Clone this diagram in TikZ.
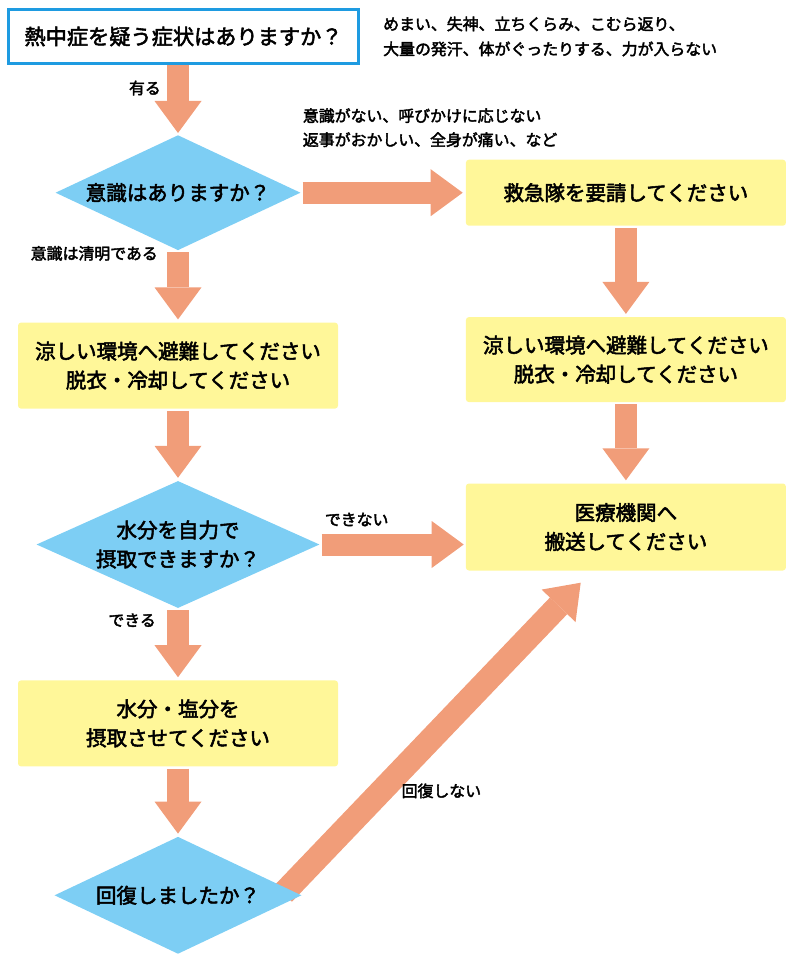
\documentclass[tikz,border=0pt]{standalone}
\usepackage{fontspec}
\setmainfont{Noto Sans CJK JP}[FakeBold=2.5]
\usetikzlibrary{positioning,arrows.meta,calc,shapes.geometric,backgrounds}

\definecolor{pfeil}{RGB}{241,157,121}
\definecolor{raute}{RGB}{125,206,244}
\definecolor{kasten}{RGB}{255,247,153}
\definecolor{rahmen}{RGB}{30,155,225}

\begin{document}
\begin{tikzpicture}[
  x=1pt, y=-1pt,
  box/.style={fill=kasten, rounded corners=3pt, minimum width=320pt, inner sep=0pt,
              align=center, font=\fontsize{20.5}{29}\selectfont},
  ask/.style={diamond, fill=raute, inner sep=0pt, align=center,
              font=\fontsize{20.5}{29}\selectfont},
  lbl/.style={inner sep=0pt, align=left, font=\fontsize{15.9}{24}\selectfont},
  fl/.style={pfeil, line width=22pt,
             -{Triangle[length=32pt, width=47pt, line width=0pt]}}
]
\useasboundingbox (0,0) rectangle (800,963);

\node[draw=rahmen, line width=3pt, fill=white, minimum width=350pt, minimum height=54pt,
      font=\fontsize{21.2}{29}\selectfont] (q0) at (183.5,36.5) {熱中症を疑う症状はありますか？};
\node[lbl, right=23pt of q0] (sym)
  {めまい、失神、立ちくらみ、こむら返り、\\[1pt]大量の発汗、体がぐったりする、力が入らない};

\node[ask, aspect=2.13, minimum width=245pt, minimum height=115pt,
      below=70pt of q0, xshift=-5.5pt] (d1) {意識はありますか？};
\node[box, minimum height=86pt, below=72pt of d1] (l1)
  {涼しい環境へ避難してください\\脱衣・冷却してください};
\node[ask, aspect=2.23, minimum width=283pt, minimum height=127pt,
      below=72pt of l1] (d2) {水分を自力で\\摂取できますか？};
\node[box, minimum height=86pt, below=72pt of d2] (l2)
  {水分・塩分を\\摂取させてください};
\node[ask, aspect=2.11, minimum width=247pt, minimum height=117pt,
      below=70pt of l2] (d3) {回復しましたか？};

\node[box, minimum height=66pt, right=165pt of d1] (r1) {救急隊を要請してください};
\node[box, minimum height=85pt, below=91pt of r1] (r2)
  {涼しい環境へ避難してください\\脱衣・冷却してください};
\node[box, minimum height=87pt, below=81pt of r2] (r3)
  {医療機関へ\\搬送してください};

\coordinate (ab) at ($(d3.north)!0.9!(d3.east)+(-6,4)$);
\coordinate (an) at ($(r3.south west)+(115,12)$);

\begin{scope}[on background layer]
\draw[fl, shorten >=2pt] (q0.south -| d1.north) -- (d1.north);
\foreach \a/\b in {d1/l1, l1/d2, d2/l2, l2/d3, r1/r2, r2/r3}
  \draw[fl, shorten <=2pt, shorten >=3pt] (\a.south) -- (\b.north);
\draw[fl, shorten <=2pt, shorten >=3pt] (d1.east) -- (r1.west);
\draw[fl, shorten <=2pt, shorten >=2pt] (d2.east) -- (d2.east -| r3.west);
\draw[fl, line width=24pt] (ab) -- (an);
\end{scope}

\node[lbl, anchor=east] (t1) at ($(q0.south -| d1.north)+(-17,23)$) {有る};
\node[lbl, anchor=east] (t2) at ($(d1.south)+(-20,3)$) {意識は清明である};
\node[lbl, anchor=west] (t3) at ($(d1.east)+(2,-65)$)
  {意識がない、呼びかけに応じない\\返事がおかしい、全身が痛い、など};
\node[lbl, anchor=west] (t4) at ($(d2.east)+(5,-25)$) {できない};
\node[lbl, anchor=east] (t5) at ($(d2.south)+(-22,12)$) {できる};
\node[lbl, anchor=west] (t6) at ($(ab)!0.33!(an)+(20,0)$) {回復しない};
\end{tikzpicture}
\end{document}
